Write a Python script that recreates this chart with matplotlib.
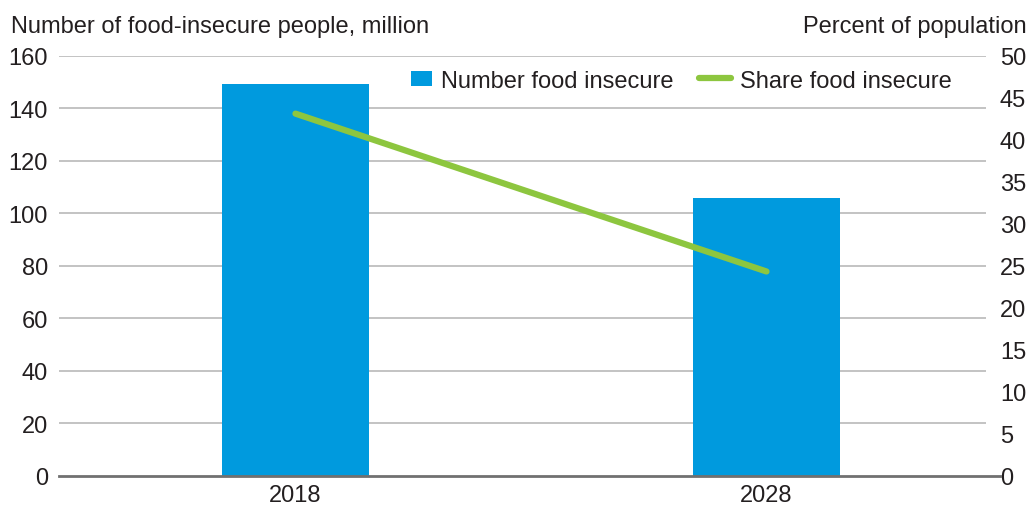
import matplotlib
matplotlib.use("Agg")
import matplotlib.pyplot as plt
from matplotlib.patches import Patch, Rectangle
from matplotlib.lines import Line2D
from matplotlib.legend_handler import HandlerPatch

years = ["2018", "2028"]
number_food_insecure = [149.2, 105.6]   # million people
share_food_insecure = [43.1, 24.3]      # percent of population
left_ticks = [0, 20, 40, 60, 80, 100, 120, 140, 160]
right_ticks = [0, 5, 10, 15, 20, 25, 30, 35, 40, 45, 50]

BLUE = "#009ADE"
GREEN = "#8DC63F"
TXT = "#231F20"
FS = 17

plt.rcParams['font.family'] = ['Liberation Sans', 'DejaVu Sans']

fig = plt.figure(figsize=(10.28, 5.06), dpi=100)
ax = fig.add_axes([59/1028, 1-476.5/506, (986-59)/1028, (476.5-56.7)/506])
x = list(range(len(years)))

ax.set_axisbelow(True)
for t in left_ticks[1:]:
    ax.axhline(t, color="#BEBEBE", lw=1.3, zorder=0)
ax.bar(x, number_food_insecure, width=0.312, color=BLUE, zorder=2)
ax.set_ylim(0, 160)
ax.set_xlim(-0.502, 1.466)
ax.set_yticks(left_ticks)
ax.set_xticks(x)
ax.set_xticklabels(years)
ax.tick_params(axis='both', length=0, labelsize=FS, colors=TXT)
ax.tick_params(axis='y', pad=8)
ax.tick_params(axis='x', pad=6)
for s in ["top", "right", "left", "bottom"]:
    ax.spines[s].set_visible(False)
ax.axhline(0, xmin=0, xmax=(1000-59)/927, color="#707070", lw=2, clip_on=False, zorder=5)

ax2 = ax.twinx()
ax2.plot(x, share_food_insecure, color=GREEN, lw=4.5, solid_capstyle='round', zorder=3)
ax2.set_ylim(0, 50)
ax2.set_yticks(right_ticks)
ax2.tick_params(axis='y', length=0, labelsize=FS, colors=TXT, pad=10)
for s in ["top", "right", "left", "bottom"]:
    ax2.spines[s].set_visible(False)

fig.text(11/1028, 1-33/506, "Number of food-insecure people, million", fontsize=FS,
         color=TXT, ha='left', va='baseline')
fig.text(1027/1028, 1-33/506, "Percent of population", fontsize=FS,
         color=TXT, ha='right', va='baseline')


def make_square(legend, orig_handle, xdescent, ydescent, width, height, fontsize):
    w_sq, h_sq = 15.1, 10.8
    return Rectangle((width - w_sq - xdescent, -ydescent + (height - h_sq) / 2), w_sq, h_sq)


handles = [Patch(facecolor=BLUE, edgecolor='none'),
           Line2D([0], [0], color=GREEN, lw=4.5, solid_capstyle='round')]
fig.legend(handles, ["Number food insecure", "Share food insecure"],
           loc='center left', bbox_to_anchor=(400/1028, 1-82/506), ncol=2,
           frameon=False, fontsize=FS, handlelength=1.35, handleheight=0.8,
           handletextpad=0.38, columnspacing=1.1, borderpad=0, borderaxespad=0,
           labelcolor=TXT, handler_map={Patch: HandlerPatch(patch_func=make_square)})

fig.savefig("out.png", dpi=100)
